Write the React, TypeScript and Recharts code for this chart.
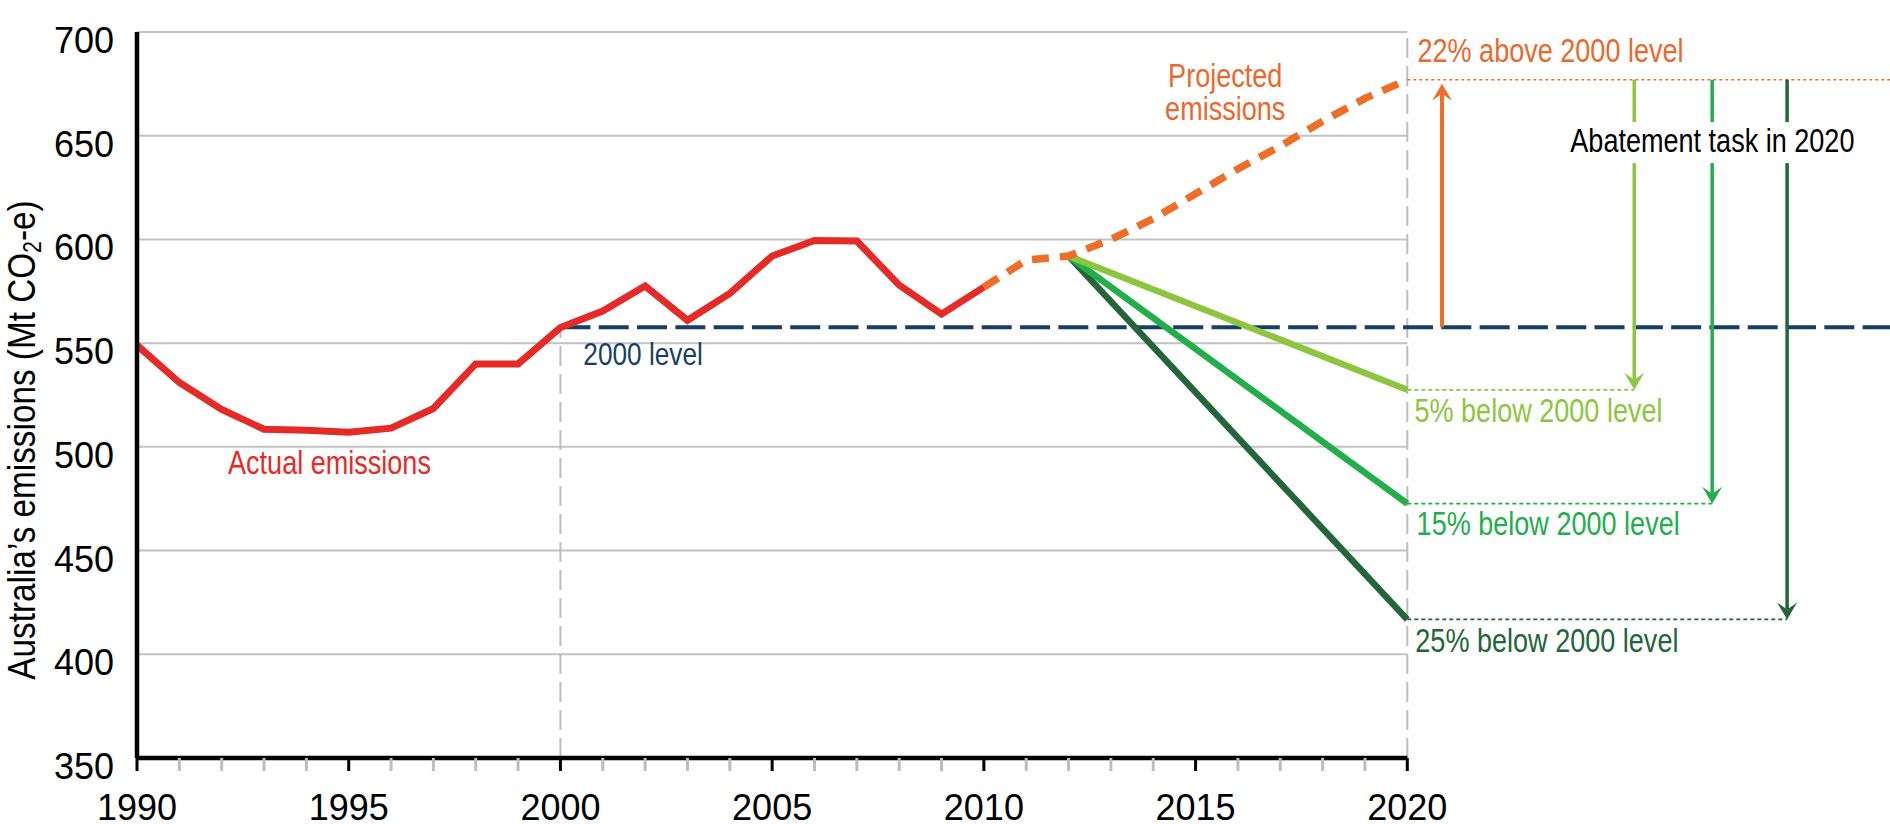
import React from 'react';
import { ComposedChart, Line, XAxis, YAxis, ReferenceLine, ReferenceDot } from 'recharts';

// ---- data ----
const actualYears = [1990, 1991, 1992, 1993, 1994, 1995, 1996, 1997, 1998, 1999, 2000, 2001, 2002, 2003, 2004, 2005, 2006, 2007, 2008, 2009, 2010];
const actualValues = [549, 531, 518, 508.5, 508, 507, 509, 518.5, 540, 540, 557.5, 565.5, 577.5, 561, 574, 592, 599.5, 599.2, 578, 564, 577];
const projectedYears = [2010, 2011, 2012, 2013, 2014, 2015, 2016, 2017, 2018, 2019, 2020];
const projectedValues = [577, 590, 592, 600, 610, 622, 634, 645, 657, 668, 677];
const level2000 = 557.7;
const targetStartYear = 2012;
const targetStartValue = 592;
const targetEndYear = 2020;
const target5 = 527.5;
const target15 = 472.6;
const target25 = 416.8;
const projected2020 = 677;
const xTickYears = Array.from({ length: 31 }, (_, i) => 1990 + i);
const yTicks = [350, 400, 450, 500, 550, 600, 650, 700];
const gridValues = [400, 450, 500, 550, 600, 650, 700];
const xDomainMax = 2031.4;
// annotation anchor positions (data units)
const arrowOrangeX = 2020.82;
const arrow5X = 2025.36;
const arrow15X = 2027.2;
const arrow25X = 2028.97;

const chartData = xTickYears.map((year) => {
  const row: any = { year };
  const ai = actualYears.indexOf(year);
  if (ai >= 0) row.actual = actualValues[ai];
  const pi = projectedYears.indexOf(year);
  if (pi >= 0) row.projected = projectedValues[pi];
  if (year === targetStartYear) {
    row.g5 = targetStartValue;
    row.g15 = targetStartValue;
    row.g25 = targetStartValue;
  }
  if (year === targetEndYear) {
    row.g5 = target5;
    row.g15 = target15;
    row.g25 = target25;
  }
  return row;
});

const MAIN_FONT = "'Liberation Sans', Arial, sans-serif";
const NARROW_SCALE = 0.82;

const RED = '#E52B27';
const ORANGE = '#EE6E27';
const ORANGE_TEXT = '#E9692C';
const NAVY = '#163F66';
const LIGHT_GREEN = '#8CC63F';
const MID_GREEN = '#22AE4B';
const DARK_GREEN = '#22663A';
const GRID = '#C2C2C2';

const XTick = (props: any) => {
  const { x, y, payload } = props;
  const v = payload.value;
  const major = v % 5 === 0;
  return (
    <g>
      <line x1={x} x2={x} y1={y} y2={y + 13} stroke={major ? '#000' : '#BDBDBD'} strokeWidth={3} />
      {major && (
        <text x={x} y={y + 62} textAnchor="middle" fontSize={36} fill="#000" fontFamily={MAIN_FONT}>
          {v}
        </text>
      )}
    </g>
  );
};

const YTick = (props: any) => {
  const { x, y, payload } = props;
  return (
    <text x={x} y={y + 21} textAnchor="end" fontSize={36} fill="#000" fontFamily={MAIN_FONT}>
      {payload.value}
    </text>
  );
};

const YTitle = (props: any) => {
  const vb = props.viewBox || { x: 0, y: 32, width: 137, height: 726 };
  const cx = vb.x + 35;
  const cy = vb.y + vb.height / 2 + 45;
  return (
    <text
      x={0}
      y={0}
      transform={`translate(${cx}, ${cy}) rotate(-90) scale(0.854, 1)`}
      textAnchor="middle"
      fontSize={39}
      fill="#000"
      fontFamily={MAIN_FONT}
    >
      Australia’s emissions (Mt CO
      <tspan fontSize={25} dy={6}>2</tspan>
      <tspan dy={-6}>-e)</tspan>
    </text>
  );
};

const makeArrow = (color: string, width: number) => (props: any) => {
  const { x1, y1, x2, y2 } = props;
  const dir = y2 > y1 ? 1 : -1;
  const hl = 17;
  const hw = 10;
  const notch = 10;
  return (
    <g>
      <line x1={x1} y1={y1} x2={x2} y2={y2 - dir * notch} stroke={color} strokeWidth={width} />
      <polygon
        points={`${x2},${y2} ${x2 - hw},${y2 - dir * hl} ${x2},${y2 - dir * notch} ${x2 + hw},${y2 - dir * hl}`}
        fill={color}
      />
    </g>
  );
};

const makeText = (lines: string[], color: string, anchor: 'start' | 'middle' | 'end', lineHeight = 33, size = 33) => (p: any) => (
  <text
    x={0}
    y={0}
    transform={`translate(${p.cx}, ${p.cy}) scale(${NARROW_SCALE}, 1)`}
    textAnchor={anchor}
    fontSize={size}
    fill={color}
    fontFamily={MAIN_FONT}
  >
    {lines.map((l, i) => (
      <tspan key={i} x={0} dy={i === 0 ? 0 : lineHeight}>
        {l}
      </tspan>
    ))}
  </text>
);

const abatementText = (p: any) => (
  <g>
    <rect x={p.cx - 6} y={p.cy - 30} width={297} height={41} fill="#fff" />
    <text
      x={0}
      y={0}
      transform={`translate(${p.cx}, ${p.cy}) scale(${NARROW_SCALE}, 1)`}
      textAnchor="start"
      fontSize={33}
      fill="#000"
      fontFamily={MAIN_FONT}
    >
      Abatement task in 2020
    </text>
  </g>
);

export default function App() {
  return (
    <div style={{ position: 'absolute', left: 0, top: 0, width: 1890, height: 824, background: '#fff' }}>
      <ComposedChart width={1890} height={824} data={chartData} margin={{ top: 32, right: 0, bottom: 0, left: 0 }}>
        <XAxis
          dataKey="year"
          type="number"
          domain={[1990, xDomainMax]}
          ticks={xTickYears}
          interval={0}
          allowDataOverflow
          axisLine={false}
          tickLine={false}
          tickSize={0}
          tickMargin={0}
          height={66}
          tick={<XTick />}
        />
        <YAxis
          type="number"
          domain={[350, 700]}
          ticks={yTicks}
          interval={0}
          allowDataOverflow
          width={137}
          axisLine={{ stroke: '#000', strokeWidth: 4.5 }}
          tickLine={false}
          tickSize={0}
          tickMargin={23}
          tick={<YTick />}
          label={{ content: <YTitle /> }}
        />
        {gridValues.map((v) => (
          <ReferenceLine
            key={`g${v}`}
            segment={[{ x: 1990, y: v }, { x: 2020, y: v }]}
            stroke={GRID}
            strokeWidth={2}
          />
        ))}
        <ReferenceLine
          segment={[{ x: 2000, y: 350 }, { x: 2000, y: level2000 }]}
          stroke="#BDBDBD"
          strokeWidth={2}
          strokeDasharray="20 8"
        />
        <ReferenceLine
          segment={[{ x: 2020, y: 350 }, { x: 2020, y: 700 }]}
          stroke="#BDBDBD"
          strokeWidth={2}
          strokeDasharray="20 8"
        />
        <ReferenceLine
          segment={[{ x: 2000, y: level2000 }, { x: xDomainMax, y: level2000 }]}
          stroke={NAVY}
          strokeWidth={4}
          strokeDasharray="30 8.3"
        />
        <ReferenceLine segment={[{ x: 1990, y: 350 }, { x: 2020, y: 350 }]} stroke="#000" strokeWidth={4.5} />
        {/* dotted guide lines */}
        <ReferenceLine
          segment={[{ x: 2020, y: projected2020 }, { x: xDomainMax, y: projected2020 }]}
          stroke={ORANGE}
          strokeWidth={1.6}
          strokeDasharray="3 3"
        />
        <ReferenceLine
          segment={[{ x: 2020, y: target5 }, { x: arrow5X, y: target5 }]}
          stroke={LIGHT_GREEN}
          strokeWidth={1.8}
          strokeDasharray="4 3"
        />
        <ReferenceLine
          segment={[{ x: 2020, y: target15 }, { x: arrow15X, y: target15 }]}
          stroke={MID_GREEN}
          strokeWidth={1.8}
          strokeDasharray="4 3"
        />
        <ReferenceLine
          segment={[{ x: 2020, y: target25 }, { x: arrow25X, y: target25 }]}
          stroke={DARK_GREEN}
          strokeWidth={1.8}
          strokeDasharray="4 3"
        />
        {/* arrows */}
        <ReferenceLine
          segment={[{ x: arrowOrangeX, y: level2000 }, { x: arrowOrangeX, y: 675 }]}
          shape={makeArrow(ORANGE, 4)}
        />
        <ReferenceLine
          segment={[{ x: arrow5X, y: projected2020 }, { x: arrow5X, y: target5 }]}
          shape={makeArrow(LIGHT_GREEN, 3.5)}
        />
        <ReferenceLine
          segment={[{ x: arrow15X, y: projected2020 }, { x: arrow15X, y: target15 }]}
          shape={makeArrow(MID_GREEN, 3.5)}
        />
        <ReferenceLine
          segment={[{ x: arrow25X, y: projected2020 }, { x: arrow25X, y: target25 }]}
          shape={makeArrow(DARK_GREEN, 3.5)}
        />
        <Line dataKey="actual" stroke={RED} strokeWidth={7} dot={false} activeDot={false} isAnimationActive={false} />
        <Line dataKey="g25" stroke={DARK_GREEN} strokeWidth={6.5} dot={false} activeDot={false} connectNulls isAnimationActive={false} />
        <Line dataKey="g15" stroke={MID_GREEN} strokeWidth={6.5} dot={false} activeDot={false} connectNulls isAnimationActive={false} />
        <Line dataKey="g5" stroke={LIGHT_GREEN} strokeWidth={6.5} dot={false} activeDot={false} connectNulls isAnimationActive={false} />
        <Line
          dataKey="projected"
          stroke={ORANGE}
          strokeWidth={7.5}
          strokeDasharray="17 11"
          dot={false}
          activeDot={false}
          isAnimationActive={false}
        />
        {/* text labels */}
        <ReferenceDot x={1992.15} y={486.7} r={1} shape={makeText(['Actual emissions'], RED, 'start')} />
        <ReferenceDot x={2000.54} y={539.3} r={1} shape={makeText(['2000 level'], NAVY, 'start', 33, 32)} />
        <ReferenceDot x={2015.7} y={673.6} r={1} shape={makeText(['Projected', 'emissions'], ORANGE_TEXT, 'middle', 33.3)} />
        <ReferenceDot x={2020.24} y={685.5} r={1} shape={makeText(['22% above 2000 level'], ORANGE_TEXT, 'start')} />
        <ReferenceDot x={2023.85} y={642.1} r={1} shape={abatementText} />
        <ReferenceDot x={2020.17} y={511.9} r={1} shape={makeText(['5% below 2000 level'], LIGHT_GREEN, 'start')} />
        <ReferenceDot x={2020.22} y={457.3} r={1} shape={makeText(['15% below 2000 level'], MID_GREEN, 'start')} />
        <ReferenceDot x={2020.19} y={401.0} r={1} shape={makeText(['25% below 2000 level'], DARK_GREEN, 'start')} />
      </ComposedChart>
    </div>
  );
}
